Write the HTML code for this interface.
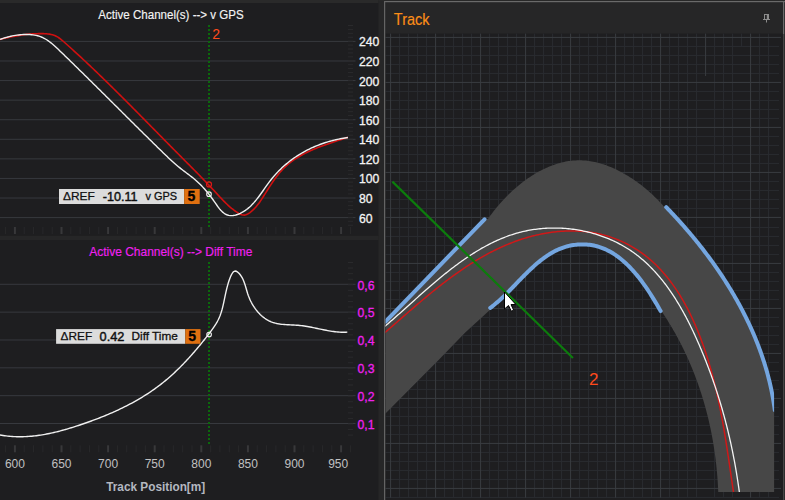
<!DOCTYPE html>
<html><head><meta charset="utf-8">
<style>
html,body{margin:0;padding:0;background:#1e1e20;width:785px;height:500px;overflow:hidden}
svg{position:absolute;left:0;top:0;font-family:"Liberation Sans", sans-serif}
</style></head><body>
<svg width="785" height="500" viewBox="0 0 785 500">
<rect x="0" y="0" width="378.5" height="500" fill="#1e1e20"/>
<rect x="0" y="0" width="378.5" height="3" fill="#2a2a2a"/>
<rect x="378.5" y="0" width="5.5" height="500" fill="#262627"/>
<rect x="0" y="235.8" width="378.5" height="4.2" fill="#262627"/>
<rect x="0" y="217.10" width="355.5" height="1" fill="#37393e"/>
<text x="359" y="222.60" fill="#f4f4f4" stroke="#f4f4f4" stroke-width="0.3" font-size="12.2">60</text>
<rect x="0" y="197.52" width="355.5" height="1" fill="#37393e"/>
<text x="359" y="203.02" fill="#f4f4f4" stroke="#f4f4f4" stroke-width="0.3" font-size="12.2">80</text>
<rect x="0" y="177.94" width="355.5" height="1" fill="#37393e"/>
<text x="359" y="183.44" fill="#f4f4f4" stroke="#f4f4f4" stroke-width="0.3" font-size="12.2">100</text>
<rect x="0" y="158.37" width="355.5" height="1" fill="#37393e"/>
<text x="359" y="163.87" fill="#f4f4f4" stroke="#f4f4f4" stroke-width="0.3" font-size="12.2">120</text>
<rect x="0" y="138.79" width="355.5" height="1" fill="#37393e"/>
<text x="359" y="144.29" fill="#f4f4f4" stroke="#f4f4f4" stroke-width="0.3" font-size="12.2">140</text>
<rect x="0" y="119.21" width="355.5" height="1" fill="#37393e"/>
<text x="359" y="124.71" fill="#f4f4f4" stroke="#f4f4f4" stroke-width="0.3" font-size="12.2">160</text>
<rect x="0" y="99.63" width="355.5" height="1" fill="#37393e"/>
<text x="359" y="105.13" fill="#f4f4f4" stroke="#f4f4f4" stroke-width="0.3" font-size="12.2">180</text>
<rect x="0" y="80.05" width="355.5" height="1" fill="#37393e"/>
<text x="359" y="85.55" fill="#f4f4f4" stroke="#f4f4f4" stroke-width="0.3" font-size="12.2">200</text>
<rect x="0" y="60.48" width="355.5" height="1" fill="#37393e"/>
<text x="359" y="65.98" fill="#f4f4f4" stroke="#f4f4f4" stroke-width="0.3" font-size="12.2">220</text>
<rect x="0" y="40.90" width="355.5" height="1" fill="#37393e"/>
<text x="359" y="46.40" fill="#f4f4f4" stroke="#f4f4f4" stroke-width="0.3" font-size="12.2">240</text>
<rect x="348" y="25.00" width="5" height="1" fill="#2a2a2c"/>
<rect x="348" y="28.92" width="5" height="1" fill="#2a2a2c"/>
<rect x="348" y="32.83" width="5" height="1" fill="#2a2a2c"/>
<rect x="348" y="36.75" width="5" height="1" fill="#2a2a2c"/>
<rect x="348" y="40.66" width="5" height="1" fill="#2a2a2c"/>
<rect x="348" y="44.58" width="5" height="1" fill="#2a2a2c"/>
<rect x="348" y="48.50" width="5" height="1" fill="#2a2a2c"/>
<rect x="348" y="52.41" width="5" height="1" fill="#2a2a2c"/>
<rect x="348" y="56.33" width="5" height="1" fill="#2a2a2c"/>
<rect x="348" y="60.24" width="5" height="1" fill="#2a2a2c"/>
<rect x="348" y="64.16" width="5" height="1" fill="#2a2a2c"/>
<rect x="348" y="68.08" width="5" height="1" fill="#2a2a2c"/>
<rect x="348" y="71.99" width="5" height="1" fill="#2a2a2c"/>
<rect x="348" y="75.91" width="5" height="1" fill="#2a2a2c"/>
<rect x="348" y="79.82" width="5" height="1" fill="#2a2a2c"/>
<rect x="348" y="83.74" width="5" height="1" fill="#2a2a2c"/>
<rect x="348" y="87.66" width="5" height="1" fill="#2a2a2c"/>
<rect x="348" y="91.57" width="5" height="1" fill="#2a2a2c"/>
<rect x="348" y="95.49" width="5" height="1" fill="#2a2a2c"/>
<rect x="348" y="99.40" width="5" height="1" fill="#2a2a2c"/>
<rect x="348" y="103.32" width="5" height="1" fill="#2a2a2c"/>
<rect x="348" y="107.24" width="5" height="1" fill="#2a2a2c"/>
<rect x="348" y="111.15" width="5" height="1" fill="#2a2a2c"/>
<rect x="348" y="115.07" width="5" height="1" fill="#2a2a2c"/>
<rect x="348" y="118.98" width="5" height="1" fill="#2a2a2c"/>
<rect x="348" y="122.90" width="5" height="1" fill="#2a2a2c"/>
<rect x="348" y="126.82" width="5" height="1" fill="#2a2a2c"/>
<rect x="348" y="130.73" width="5" height="1" fill="#2a2a2c"/>
<rect x="348" y="134.65" width="5" height="1" fill="#2a2a2c"/>
<rect x="348" y="138.56" width="5" height="1" fill="#2a2a2c"/>
<rect x="348" y="142.48" width="5" height="1" fill="#2a2a2c"/>
<rect x="348" y="146.40" width="5" height="1" fill="#2a2a2c"/>
<rect x="348" y="150.31" width="5" height="1" fill="#2a2a2c"/>
<rect x="348" y="154.23" width="5" height="1" fill="#2a2a2c"/>
<rect x="348" y="158.14" width="5" height="1" fill="#2a2a2c"/>
<rect x="348" y="162.06" width="5" height="1" fill="#2a2a2c"/>
<rect x="348" y="165.98" width="5" height="1" fill="#2a2a2c"/>
<rect x="348" y="169.89" width="5" height="1" fill="#2a2a2c"/>
<rect x="348" y="173.81" width="5" height="1" fill="#2a2a2c"/>
<rect x="348" y="177.72" width="5" height="1" fill="#2a2a2c"/>
<rect x="348" y="181.64" width="5" height="1" fill="#2a2a2c"/>
<rect x="348" y="185.56" width="5" height="1" fill="#2a2a2c"/>
<rect x="348" y="189.47" width="5" height="1" fill="#2a2a2c"/>
<rect x="348" y="193.39" width="5" height="1" fill="#2a2a2c"/>
<rect x="348" y="197.30" width="5" height="1" fill="#2a2a2c"/>
<rect x="348" y="201.22" width="5" height="1" fill="#2a2a2c"/>
<rect x="348" y="205.14" width="5" height="1" fill="#2a2a2c"/>
<rect x="348" y="209.05" width="5" height="1" fill="#2a2a2c"/>
<rect x="348" y="212.97" width="5" height="1" fill="#2a2a2c"/>
<rect x="348" y="216.88" width="5" height="1" fill="#2a2a2c"/>
<rect x="348" y="220.80" width="5" height="1" fill="#2a2a2c"/>
<rect x="348" y="224.72" width="5" height="1" fill="#2a2a2c"/>
<rect x="5.08" y="227.00" width="1" height="7" fill="#28282a"/>
<rect x="13.90" y="227.00" width="2" height="7" fill="#38383a"/>
<rect x="23.72" y="227.00" width="1" height="7" fill="#28282a"/>
<rect x="33.04" y="227.00" width="1" height="7" fill="#28282a"/>
<rect x="42.36" y="227.00" width="1" height="7" fill="#28282a"/>
<rect x="51.68" y="227.00" width="1" height="7" fill="#28282a"/>
<rect x="60.50" y="227.00" width="2" height="7" fill="#38383a"/>
<rect x="70.32" y="227.00" width="1" height="7" fill="#28282a"/>
<rect x="79.64" y="227.00" width="1" height="7" fill="#28282a"/>
<rect x="88.96" y="227.00" width="1" height="7" fill="#28282a"/>
<rect x="98.28" y="227.00" width="1" height="7" fill="#28282a"/>
<rect x="107.10" y="227.00" width="2" height="7" fill="#38383a"/>
<rect x="116.92" y="227.00" width="1" height="7" fill="#28282a"/>
<rect x="126.24" y="227.00" width="1" height="7" fill="#28282a"/>
<rect x="135.56" y="227.00" width="1" height="7" fill="#28282a"/>
<rect x="144.88" y="227.00" width="1" height="7" fill="#28282a"/>
<rect x="153.70" y="227.00" width="2" height="7" fill="#38383a"/>
<rect x="163.52" y="227.00" width="1" height="7" fill="#28282a"/>
<rect x="172.84" y="227.00" width="1" height="7" fill="#28282a"/>
<rect x="182.16" y="227.00" width="1" height="7" fill="#28282a"/>
<rect x="191.48" y="227.00" width="1" height="7" fill="#28282a"/>
<rect x="200.30" y="227.00" width="2" height="7" fill="#38383a"/>
<rect x="210.12" y="227.00" width="1" height="7" fill="#28282a"/>
<rect x="219.44" y="227.00" width="1" height="7" fill="#28282a"/>
<rect x="228.76" y="227.00" width="1" height="7" fill="#28282a"/>
<rect x="238.08" y="227.00" width="1" height="7" fill="#28282a"/>
<rect x="246.90" y="227.00" width="2" height="7" fill="#38383a"/>
<rect x="256.72" y="227.00" width="1" height="7" fill="#28282a"/>
<rect x="266.04" y="227.00" width="1" height="7" fill="#28282a"/>
<rect x="275.36" y="227.00" width="1" height="7" fill="#28282a"/>
<rect x="284.68" y="227.00" width="1" height="7" fill="#28282a"/>
<rect x="293.50" y="227.00" width="2" height="7" fill="#38383a"/>
<rect x="303.32" y="227.00" width="1" height="7" fill="#28282a"/>
<rect x="312.64" y="227.00" width="1" height="7" fill="#28282a"/>
<rect x="321.96" y="227.00" width="1" height="7" fill="#28282a"/>
<rect x="331.28" y="227.00" width="1" height="7" fill="#28282a"/>
<rect x="340.10" y="227.00" width="2" height="7" fill="#38383a"/>
<rect x="349.92" y="227.00" width="1" height="7" fill="#28282a"/>
<rect x="5.08" y="445.30" width="1" height="7" fill="#28282a"/>
<rect x="13.90" y="445.30" width="2" height="7" fill="#38383a"/>
<rect x="23.72" y="445.30" width="1" height="7" fill="#28282a"/>
<rect x="33.04" y="445.30" width="1" height="7" fill="#28282a"/>
<rect x="42.36" y="445.30" width="1" height="7" fill="#28282a"/>
<rect x="51.68" y="445.30" width="1" height="7" fill="#28282a"/>
<rect x="60.50" y="445.30" width="2" height="7" fill="#38383a"/>
<rect x="70.32" y="445.30" width="1" height="7" fill="#28282a"/>
<rect x="79.64" y="445.30" width="1" height="7" fill="#28282a"/>
<rect x="88.96" y="445.30" width="1" height="7" fill="#28282a"/>
<rect x="98.28" y="445.30" width="1" height="7" fill="#28282a"/>
<rect x="107.10" y="445.30" width="2" height="7" fill="#38383a"/>
<rect x="116.92" y="445.30" width="1" height="7" fill="#28282a"/>
<rect x="126.24" y="445.30" width="1" height="7" fill="#28282a"/>
<rect x="135.56" y="445.30" width="1" height="7" fill="#28282a"/>
<rect x="144.88" y="445.30" width="1" height="7" fill="#28282a"/>
<rect x="153.70" y="445.30" width="2" height="7" fill="#38383a"/>
<rect x="163.52" y="445.30" width="1" height="7" fill="#28282a"/>
<rect x="172.84" y="445.30" width="1" height="7" fill="#28282a"/>
<rect x="182.16" y="445.30" width="1" height="7" fill="#28282a"/>
<rect x="191.48" y="445.30" width="1" height="7" fill="#28282a"/>
<rect x="200.30" y="445.30" width="2" height="7" fill="#38383a"/>
<rect x="210.12" y="445.30" width="1" height="7" fill="#28282a"/>
<rect x="219.44" y="445.30" width="1" height="7" fill="#28282a"/>
<rect x="228.76" y="445.30" width="1" height="7" fill="#28282a"/>
<rect x="238.08" y="445.30" width="1" height="7" fill="#28282a"/>
<rect x="246.90" y="445.30" width="2" height="7" fill="#38383a"/>
<rect x="256.72" y="445.30" width="1" height="7" fill="#28282a"/>
<rect x="266.04" y="445.30" width="1" height="7" fill="#28282a"/>
<rect x="275.36" y="445.30" width="1" height="7" fill="#28282a"/>
<rect x="284.68" y="445.30" width="1" height="7" fill="#28282a"/>
<rect x="293.50" y="445.30" width="2" height="7" fill="#38383a"/>
<rect x="303.32" y="445.30" width="1" height="7" fill="#28282a"/>
<rect x="312.64" y="445.30" width="1" height="7" fill="#28282a"/>
<rect x="321.96" y="445.30" width="1" height="7" fill="#28282a"/>
<rect x="331.28" y="445.30" width="1" height="7" fill="#28282a"/>
<rect x="340.10" y="445.30" width="2" height="7" fill="#38383a"/>
<rect x="349.92" y="445.30" width="1" height="7" fill="#28282a"/>
<rect x="0" y="283.80" width="355.5" height="1" fill="#37393e"/>
<text x="357.6" y="289.60" fill="#f020f0" stroke="#f020f0" stroke-width="0.3" font-size="12.2">0,6</text>
<rect x="0" y="311.64" width="355.5" height="1" fill="#37393e"/>
<text x="357.6" y="317.44" fill="#f020f0" stroke="#f020f0" stroke-width="0.3" font-size="12.2">0,5</text>
<rect x="0" y="339.48" width="355.5" height="1" fill="#37393e"/>
<text x="357.6" y="345.28" fill="#f020f0" stroke="#f020f0" stroke-width="0.3" font-size="12.2">0,4</text>
<rect x="0" y="367.32" width="355.5" height="1" fill="#37393e"/>
<text x="357.6" y="373.12" fill="#f020f0" stroke="#f020f0" stroke-width="0.3" font-size="12.2">0,3</text>
<rect x="0" y="395.16" width="355.5" height="1" fill="#37393e"/>
<text x="357.6" y="400.96" fill="#f020f0" stroke="#f020f0" stroke-width="0.3" font-size="12.2">0,2</text>
<rect x="0" y="423.00" width="355.5" height="1" fill="#37393e"/>
<text x="357.6" y="428.80" fill="#f020f0" stroke="#f020f0" stroke-width="0.3" font-size="12.2">0,1</text>
<rect x="348" y="262.00" width="5" height="1" fill="#2a2a2c"/>
<rect x="348" y="267.57" width="5" height="1" fill="#2a2a2c"/>
<rect x="348" y="273.14" width="5" height="1" fill="#2a2a2c"/>
<rect x="348" y="278.70" width="5" height="1" fill="#2a2a2c"/>
<rect x="348" y="284.27" width="5" height="1" fill="#2a2a2c"/>
<rect x="348" y="289.84" width="5" height="1" fill="#2a2a2c"/>
<rect x="348" y="295.41" width="5" height="1" fill="#2a2a2c"/>
<rect x="348" y="300.98" width="5" height="1" fill="#2a2a2c"/>
<rect x="348" y="306.54" width="5" height="1" fill="#2a2a2c"/>
<rect x="348" y="312.11" width="5" height="1" fill="#2a2a2c"/>
<rect x="348" y="317.68" width="5" height="1" fill="#2a2a2c"/>
<rect x="348" y="323.25" width="5" height="1" fill="#2a2a2c"/>
<rect x="348" y="328.82" width="5" height="1" fill="#2a2a2c"/>
<rect x="348" y="334.38" width="5" height="1" fill="#2a2a2c"/>
<rect x="348" y="339.95" width="5" height="1" fill="#2a2a2c"/>
<rect x="348" y="345.52" width="5" height="1" fill="#2a2a2c"/>
<rect x="348" y="351.09" width="5" height="1" fill="#2a2a2c"/>
<rect x="348" y="356.66" width="5" height="1" fill="#2a2a2c"/>
<rect x="348" y="362.22" width="5" height="1" fill="#2a2a2c"/>
<rect x="348" y="367.79" width="5" height="1" fill="#2a2a2c"/>
<rect x="348" y="373.36" width="5" height="1" fill="#2a2a2c"/>
<rect x="348" y="378.93" width="5" height="1" fill="#2a2a2c"/>
<rect x="348" y="384.50" width="5" height="1" fill="#2a2a2c"/>
<rect x="348" y="390.06" width="5" height="1" fill="#2a2a2c"/>
<rect x="348" y="395.63" width="5" height="1" fill="#2a2a2c"/>
<rect x="348" y="401.20" width="5" height="1" fill="#2a2a2c"/>
<rect x="348" y="406.77" width="5" height="1" fill="#2a2a2c"/>
<rect x="348" y="412.34" width="5" height="1" fill="#2a2a2c"/>
<rect x="348" y="417.90" width="5" height="1" fill="#2a2a2c"/>
<rect x="348" y="423.47" width="5" height="1" fill="#2a2a2c"/>
<rect x="348" y="429.04" width="5" height="1" fill="#2a2a2c"/>
<rect x="348" y="434.61" width="5" height="1" fill="#2a2a2c"/>
<text x="98.3" y="18.8" fill="#f4f4f4" stroke="#f4f4f4" stroke-width="0.15" font-size="12.3" textLength="145.4" lengthAdjust="spacingAndGlyphs">Active Channel(s) --&gt; v GPS</text>
<text x="89.3" y="255.5" fill="#f020f0" stroke="#f020f0" stroke-width="0.15" font-size="12.3" textLength="163" lengthAdjust="spacingAndGlyphs">Active Channel(s) --&gt; Diff Time</text>
<line x1="209" y1="25" x2="209" y2="227" stroke="#0c680c" stroke-width="2" stroke-dasharray="2,2"/>
<line x1="209" y1="262" x2="209" y2="445" stroke="#0c680c" stroke-width="2" stroke-dasharray="2,2"/>
<text x="212.2" y="39" fill="#ff4a1c" font-size="14">2</text>
<path d="M-0.00,39.40 L1.55,39.02 L3.08,38.65 L4.60,38.30 L6.11,37.95 L7.61,37.62 L9.10,37.29 L10.58,36.98 L12.05,36.68 L13.51,36.40 L14.97,36.12 L16.43,35.86 L17.88,35.62 L19.33,35.38 L20.79,35.16 L22.24,34.95 L23.69,34.76 L25.15,34.58 L26.61,34.42 L28.08,34.27 L29.55,34.13 L31.03,34.01 L32.52,33.91 L34.02,33.82 L35.53,33.75 L37.06,33.69 L38.60,33.65 L40.15,33.62 L41.72,33.62 L43.29,33.64 L44.87,33.69 L46.43,33.79 L47.99,33.95 L49.52,34.16 L51.03,34.44 L52.50,34.80 L53.93,35.25 L55.30,35.79 L56.62,36.43 L57.90,37.17 L59.13,37.98 L60.32,38.85 L61.49,39.78 L62.64,40.74 L63.77,41.73 L64.89,42.73 L66.02,43.73 L67.14,44.73 L68.26,45.74 L69.38,46.74 L70.50,47.75 L71.61,48.76 L72.73,49.77 L73.84,50.79 L74.95,51.80 L76.06,52.82 L77.17,53.84 L78.28,54.86 L79.39,55.88 L80.49,56.90 L81.60,57.93 L82.70,58.96 L83.80,59.98 L84.90,61.01 L86.00,62.04 L87.10,63.07 L88.19,64.11 L89.29,65.14 L90.38,66.18 L91.47,67.22 L92.57,68.25 L93.66,69.29 L94.75,70.34 L95.83,71.38 L96.92,72.42 L98.01,73.47 L99.09,74.51 L100.18,75.56 L101.26,76.61 L102.34,77.66 L103.42,78.71 L104.50,79.76 L105.58,80.81 L106.66,81.86 L107.74,82.92 L108.82,83.97 L109.89,85.03 L110.97,86.09 L112.04,87.14 L113.12,88.20 L114.19,89.26 L115.26,90.32 L116.33,91.38 L117.40,92.45 L118.47,93.51 L119.54,94.57 L120.61,95.64 L121.68,96.70 L122.74,97.77 L123.81,98.83 L124.88,99.90 L125.94,100.97 L127.01,102.03 L128.07,103.10 L129.13,104.17 L130.20,105.24 L131.26,106.31 L132.32,107.38 L133.38,108.45 L134.44,109.52 L135.50,110.59 L136.56,111.66 L137.62,112.74 L138.68,113.81 L139.74,114.88 L140.80,115.95 L141.86,117.03 L142.92,118.10 L143.98,119.17 L145.03,120.25 L146.09,121.32 L147.15,122.40 L148.21,123.47 L149.26,124.54 L150.32,125.62 L151.37,126.69 L152.43,127.77 L153.49,128.84 L154.54,129.91 L155.60,130.99 L156.65,132.06 L157.71,133.13 L158.77,134.21 L159.82,135.28 L160.88,136.35 L161.93,137.43 L162.99,138.50 L164.04,139.57 L165.10,140.65 L166.16,141.72 L167.21,142.79 L168.27,143.86 L169.32,144.93 L170.38,146.00 L171.44,147.07 L172.49,148.14 L173.55,149.21 L174.61,150.28 L175.66,151.35 L176.72,152.41 L177.78,153.48 L178.84,154.55 L179.90,155.61 L180.95,156.68 L182.01,157.74 L183.07,158.81 L184.13,159.87 L185.19,160.94 L186.25,162.00 L187.31,163.07 L188.37,164.13 L189.43,165.19 L190.48,166.26 L191.54,167.33 L192.60,168.39 L193.65,169.46 L194.71,170.53 L195.76,171.60 L196.82,172.67 L197.87,173.74 L198.92,174.81 L199.97,175.88 L201.02,176.96 L202.07,178.04 L203.12,179.12 L204.16,180.20 L205.21,181.28 L206.25,182.37 L207.29,183.46 L208.33,184.55 L209.37,185.64 L210.40,186.73 L211.44,187.83 L212.47,188.93 L213.50,190.04 L214.52,191.15 L215.55,192.26 L216.57,193.37 L217.59,194.48 L218.62,195.60 L219.64,196.71 L220.67,197.82 L221.71,198.92 L222.75,200.02 L223.80,201.10 L224.86,202.17 L225.94,203.23 L227.03,204.28 L228.13,205.30 L229.25,206.31 L230.39,207.30 L231.55,208.26 L232.74,209.20 L233.94,210.11 L235.17,211.00 L236.43,211.85 L237.72,212.68 L239.03,213.46 L240.38,214.17 L241.73,214.72 L243.09,215.06 L244.44,215.11 L245.78,214.84 L247.10,214.32 L248.38,213.62 L249.62,212.79 L250.81,211.89 L251.96,210.94 L253.06,209.95 L254.12,208.91 L255.15,207.82 L256.14,206.70 L257.09,205.55 L258.03,204.36 L258.93,203.15 L259.82,201.91 L260.68,200.66 L261.53,199.38 L262.37,198.10 L263.20,196.80 L264.02,195.49 L264.85,194.19 L265.67,192.88 L266.49,191.58 L267.31,190.27 L268.13,188.97 L268.96,187.67 L269.80,186.38 L270.63,185.09 L271.48,183.82 L272.33,182.55 L273.19,181.29 L274.07,180.04 L274.95,178.80 L275.84,177.58 L276.75,176.38 L277.67,175.19 L278.61,174.02 L279.57,172.86 L280.54,171.73 L281.53,170.62 L282.54,169.53 L283.57,168.46 L284.62,167.42 L285.70,166.41 L286.79,165.41 L287.91,164.45 L289.05,163.50 L290.20,162.58 L291.38,161.68 L292.57,160.81 L293.78,159.95 L295.01,159.12 L296.25,158.30 L297.51,157.51 L298.79,156.73 L300.08,155.98 L301.38,155.24 L302.69,154.52 L304.02,153.81 L305.36,153.13 L306.71,152.45 L308.07,151.80 L309.44,151.16 L310.82,150.53 L312.21,149.91 L313.60,149.31 L315.01,148.72 L316.42,148.15 L317.83,147.58 L319.25,147.03 L320.68,146.48 L322.11,145.95 L323.54,145.43 L324.97,144.91 L326.41,144.40 L327.85,143.90 L329.29,143.41 L330.72,142.92 L332.16,142.44 L333.60,141.96 L335.03,141.49 L336.47,141.03 L337.89,140.56 L339.32,140.10 L340.74,139.65 L342.16,139.19 L343.57,138.74 L344.97,138.29 L346.37,137.84 L347.75,137.38" fill="none" stroke="#d01010" stroke-width="1.6"/>
<path d="M0.00,39.40 L1.19,38.97 L2.43,38.55 L3.73,38.13 L5.06,37.73 L6.45,37.34 L7.87,36.96 L9.32,36.60 L10.81,36.26 L12.33,35.94 L13.87,35.65 L15.44,35.38 L17.02,35.14 L18.62,34.93 L20.23,34.76 L21.84,34.63 L23.46,34.53 L25.08,34.47 L26.69,34.46 L28.30,34.49 L29.90,34.57 L31.48,34.70 L33.05,34.89 L34.59,35.12 L36.11,35.42 L37.60,35.78 L39.06,36.20 L40.48,36.68 L41.87,37.23 L43.22,37.84 L44.53,38.51 L45.81,39.24 L47.07,40.01 L48.29,40.83 L49.49,41.69 L50.67,42.59 L51.83,43.53 L52.98,44.49 L54.10,45.48 L55.22,46.48 L56.32,47.51 L57.42,48.55 L58.52,49.59 L59.60,50.64 L60.69,51.69 L61.78,52.74 L62.87,53.80 L63.96,54.85 L65.04,55.90 L66.13,56.95 L67.21,58.01 L68.30,59.06 L69.38,60.12 L70.47,61.17 L71.55,62.23 L72.63,63.28 L73.71,64.34 L74.79,65.40 L75.87,66.45 L76.95,67.51 L78.03,68.57 L79.11,69.63 L80.19,70.69 L81.27,71.74 L82.35,72.80 L83.43,73.86 L84.50,74.92 L85.58,75.98 L86.66,77.04 L87.73,78.10 L88.81,79.17 L89.88,80.23 L90.96,81.29 L92.03,82.35 L93.11,83.41 L94.18,84.47 L95.25,85.54 L96.33,86.60 L97.40,87.66 L98.47,88.72 L99.55,89.79 L100.62,90.85 L101.69,91.91 L102.76,92.98 L103.83,94.04 L104.91,95.10 L105.98,96.17 L107.05,97.23 L108.12,98.30 L109.19,99.36 L110.26,100.42 L111.33,101.49 L112.40,102.55 L113.47,103.62 L114.54,104.68 L115.61,105.74 L116.68,106.81 L117.75,107.87 L118.82,108.94 L119.89,110.00 L120.96,111.06 L122.03,112.13 L123.10,113.19 L124.17,114.26 L125.25,115.32 L126.32,116.38 L127.39,117.45 L128.46,118.51 L129.53,119.57 L130.60,120.64 L131.67,121.70 L132.74,122.76 L133.81,123.83 L134.88,124.89 L135.95,125.95 L137.02,127.01 L138.10,128.07 L139.17,129.14 L140.24,130.20 L141.31,131.26 L142.39,132.32 L143.46,133.38 L144.53,134.44 L145.60,135.50 L146.68,136.56 L147.75,137.62 L148.83,138.68 L149.90,139.74 L150.98,140.80 L152.05,141.86 L153.13,142.91 L154.20,143.97 L155.28,145.03 L156.36,146.09 L157.43,147.14 L158.51,148.20 L159.59,149.25 L160.67,150.31 L161.75,151.36 L162.83,152.42 L163.91,153.47 L164.99,154.52 L166.08,155.56 L167.18,156.60 L168.27,157.64 L169.37,158.67 L170.48,159.70 L171.59,160.72 L172.71,161.73 L173.84,162.74 L174.97,163.74 L176.12,164.73 L177.27,165.71 L178.43,166.68 L179.60,167.64 L180.79,168.59 L181.98,169.53 L183.18,170.46 L184.39,171.38 L185.61,172.30 L186.82,173.21 L188.04,174.13 L189.25,175.04 L190.45,175.96 L191.64,176.88 L192.82,177.81 L193.98,178.76 L195.13,179.71 L196.25,180.69 L197.35,181.67 L198.43,182.68 L199.50,183.70 L200.55,184.73 L201.58,185.79 L202.60,186.86 L203.60,187.94 L204.59,189.04 L205.56,190.17 L206.53,191.30 L207.49,192.46 L208.43,193.63 L209.37,194.82 L210.30,196.03 L211.23,197.26 L212.15,198.51 L213.06,199.78 L213.98,201.06 L214.89,202.37 L215.80,203.69 L216.71,205.01 L217.64,206.32 L218.59,207.60 L219.55,208.84 L220.55,210.02 L221.59,211.13 L222.66,212.14 L223.79,213.05 L224.96,213.84 L226.20,214.49 L227.49,215.00 L228.83,215.36 L230.21,215.58 L231.62,215.64 L233.06,215.56 L234.51,215.33 L235.96,214.98 L237.40,214.52 L238.83,213.98 L240.22,213.36 L241.56,212.69 L242.87,211.97 L244.14,211.20 L245.37,210.38 L246.56,209.52 L247.73,208.61 L248.86,207.66 L249.96,206.68 L251.04,205.66 L252.09,204.60 L253.11,203.52 L254.12,202.41 L255.10,201.27 L256.07,200.10 L257.02,198.92 L257.95,197.72 L258.88,196.50 L259.79,195.26 L260.70,194.02 L261.59,192.76 L262.49,191.50 L263.38,190.23 L264.27,188.96 L265.16,187.69 L266.06,186.42 L266.96,185.16 L267.87,183.90 L268.78,182.65 L269.71,181.42 L270.65,180.20 L271.60,178.99 L272.57,177.80 L273.55,176.63 L274.54,175.48 L275.55,174.34 L276.58,173.22 L277.61,172.11 L278.66,171.02 L279.73,169.95 L280.81,168.90 L281.90,167.86 L283.00,166.84 L284.12,165.83 L285.24,164.84 L286.39,163.87 L287.54,162.92 L288.70,161.98 L289.88,161.06 L291.07,160.16 L292.27,159.27 L293.48,158.40 L294.71,157.54 L295.94,156.71 L297.19,155.89 L298.44,155.08 L299.71,154.30 L300.99,153.53 L302.27,152.77 L303.57,152.04 L304.88,151.32 L306.20,150.61 L307.52,149.93 L308.86,149.26 L310.21,148.61 L311.56,147.97 L312.93,147.35 L314.30,146.75 L315.68,146.16 L317.07,145.60 L318.47,145.04 L319.88,144.51 L321.29,143.99 L322.71,143.49 L324.15,143.01 L325.58,142.54 L327.03,142.09 L328.48,141.65 L329.94,141.24 L331.41,140.84 L332.88,140.45 L334.36,140.09 L335.85,139.74 L337.34,139.41 L338.84,139.09 L340.35,138.79 L341.86,138.51 L343.38,138.24 L344.90,138.00 L346.43,137.77 L347.96,137.55" fill="none" stroke="#f0f0f0" stroke-width="1.4"/>
<circle cx="209" cy="184.4" r="2.5" fill="none" stroke="#e01818" stroke-width="1.2"/>
<circle cx="209" cy="194.2" r="2.3" fill="none" stroke="#f0f0f0" stroke-width="1.1"/>
<path d="M-0.05,435.01 L1.49,435.27 L3.03,435.51 L4.57,435.73 L6.11,435.92 L7.64,436.10 L9.17,436.25 L10.70,436.38 L12.22,436.49 L13.74,436.58 L15.26,436.65 L16.77,436.70 L18.29,436.73 L19.80,436.74 L21.30,436.73 L22.81,436.70 L24.31,436.66 L25.81,436.60 L27.30,436.52 L28.80,436.42 L30.29,436.31 L31.78,436.18 L33.27,436.03 L34.75,435.87 L36.23,435.70 L37.72,435.51 L39.19,435.30 L40.67,435.08 L42.14,434.85 L43.62,434.60 L45.09,434.34 L46.55,434.06 L48.02,433.78 L49.48,433.48 L50.95,433.17 L52.41,432.85 L53.87,432.51 L55.33,432.17 L56.78,431.81 L58.24,431.45 L59.69,431.07 L61.14,430.69 L62.59,430.30 L64.04,429.89 L65.48,429.48 L66.93,429.06 L68.38,428.64 L69.82,428.20 L71.26,427.76 L72.70,427.31 L74.14,426.86 L75.58,426.39 L77.02,425.93 L78.45,425.46 L79.89,424.98 L81.32,424.50 L82.76,424.01 L84.19,423.52 L85.62,423.02 L87.05,422.52 L88.48,422.01 L89.91,421.50 L91.34,420.98 L92.76,420.46 L94.18,419.93 L95.60,419.39 L97.02,418.85 L98.44,418.31 L99.85,417.76 L101.26,417.20 L102.67,416.64 L104.07,416.07 L105.48,415.49 L106.88,414.91 L108.28,414.32 L109.67,413.73 L111.06,413.12 L112.45,412.52 L113.83,411.90 L115.21,411.28 L116.59,410.65 L117.97,410.02 L119.33,409.37 L120.70,408.73 L122.06,408.07 L123.42,407.40 L124.77,406.73 L126.12,406.06 L127.47,405.37 L128.81,404.67 L130.14,403.97 L131.47,403.26 L132.80,402.55 L134.12,401.82 L135.43,401.09 L136.74,400.35 L138.04,399.60 L139.34,398.84 L140.64,398.07 L141.92,397.30 L143.20,396.51 L144.48,395.72 L145.75,394.92 L147.01,394.11 L148.27,393.29 L149.52,392.46 L150.76,391.63 L152.00,390.78 L153.23,389.92 L154.45,389.06 L155.67,388.19 L156.88,387.30 L158.08,386.41 L159.28,385.50 L160.47,384.59 L161.65,383.67 L162.82,382.74 L163.99,381.79 L165.15,380.84 L166.30,379.88 L167.44,378.91 L168.58,377.93 L169.71,376.95 L170.83,375.95 L171.95,374.95 L173.06,373.93 L174.16,372.91 L175.26,371.88 L176.35,370.85 L177.44,369.80 L178.51,368.75 L179.59,367.69 L180.65,366.62 L181.71,365.55 L182.77,364.47 L183.82,363.38 L184.86,362.29 L185.90,361.19 L186.93,360.08 L187.96,358.97 L188.98,357.85 L189.99,356.73 L191.00,355.60 L192.01,354.46 L193.01,353.32 L194.01,352.17 L195.00,351.02 L195.98,349.87 L196.97,348.71 L197.94,347.54 L198.92,346.37 L199.88,345.20 L200.85,344.02 L201.81,342.84 L202.76,341.65 L203.71,340.46 L204.66,339.27 L205.61,338.07 L206.55,336.88 L207.48,335.67 L208.42,334.47 L209.34,333.26 L210.27,332.05 L211.18,330.83 L212.08,329.61 L212.96,328.38 L213.83,327.14 L214.67,325.89 L215.48,324.63 L216.26,323.36 L217.01,322.07 L217.71,320.77 L218.38,319.45 L219.01,318.11 L219.59,316.76 L220.13,315.39 L220.64,314.00 L221.11,312.60 L221.55,311.18 L221.97,309.76 L222.36,308.32 L222.73,306.86 L223.09,305.40 L223.43,303.93 L223.76,302.45 L224.07,300.96 L224.39,299.47 L224.70,297.97 L225.01,296.46 L225.33,294.95 L225.65,293.44 L225.98,291.92 L226.33,290.40 L226.69,288.88 L227.07,287.36 L227.47,285.84 L227.89,284.33 L228.35,282.81 L228.83,281.30 L229.35,279.79 L229.91,278.29 L230.51,276.80 L231.15,275.34 L231.84,273.99 L232.59,272.82 L233.40,271.89 L234.28,271.29 L235.24,271.08 L236.26,271.28 L237.32,271.85 L238.39,272.70 L239.43,273.78 L240.41,275.00 L241.31,276.30 L242.11,277.65 L242.83,279.04 L243.48,280.47 L244.07,281.93 L244.60,283.42 L245.10,284.92 L245.56,286.43 L246.01,287.95 L246.45,289.47 L246.88,290.98 L247.33,292.47 L247.80,293.94 L248.30,295.39 L248.83,296.82 L249.40,298.22 L249.99,299.60 L250.62,300.96 L251.29,302.30 L251.99,303.62 L252.74,304.92 L253.52,306.19 L254.35,307.45 L255.22,308.69 L256.13,309.90 L257.08,311.08 L258.07,312.23 L259.09,313.35 L260.16,314.43 L261.26,315.46 L262.39,316.45 L263.56,317.39 L264.76,318.28 L265.99,319.12 L267.25,319.89 L268.54,320.61 L269.87,321.26 L271.21,321.84 L272.59,322.35 L273.99,322.79 L275.41,323.18 L276.86,323.51 L278.32,323.79 L279.80,324.03 L281.29,324.23 L282.80,324.39 L284.32,324.53 L285.85,324.64 L287.38,324.73 L288.92,324.82 L290.47,324.89 L292.01,324.96 L293.56,325.03 L295.10,325.12 L296.64,325.21 L298.17,325.32 L299.69,325.46 L301.20,325.62 L302.71,325.81 L304.21,326.01 L305.70,326.24 L307.18,326.48 L308.66,326.74 L310.13,327.02 L311.60,327.30 L313.06,327.59 L314.52,327.89 L315.98,328.20 L317.44,328.51 L318.89,328.82 L320.35,329.13 L321.81,329.43 L323.26,329.73 L324.72,330.03 L326.19,330.31 L327.65,330.59 L329.12,330.85 L330.59,331.09 L332.07,331.32 L333.56,331.52 L335.05,331.71 L336.55,331.87 L338.06,332.00 L339.58,332.11 L341.10,332.19 L342.64,332.24 L344.19,332.25 L345.75,332.22 L347.32,332.16" fill="none" stroke="#f0f0f0" stroke-width="1.4"/>
<circle cx="209.1" cy="334.6" r="2.3" fill="none" stroke="#f0f0f0" stroke-width="1.1"/>
<rect x="59" y="189" width="125.2" height="15" fill="#dcdcdc"/>
<rect x="184.2" y="189" width="15.5" height="15" fill="#e07010"/>
<text x="63" y="200" fill="#101010" stroke="#101010" stroke-width="0.25" font-size="11.2" textLength="31.8" lengthAdjust="spacingAndGlyphs">ΔREF</text>
<text x="102.7" y="200.8" fill="#101010" stroke="#101010" stroke-width="0.45" font-size="13.4" textLength="34.8" lengthAdjust="spacingAndGlyphs">-10.11</text>
<text x="145.4" y="200.4" fill="#101010" stroke="#101010" stroke-width="0.3" font-size="11.6" textLength="31.6" lengthAdjust="spacingAndGlyphs">v GPS</text>
<text x="187.6" y="200.6" fill="#000" stroke="#000" stroke-width="0.3" font-size="14" font-weight="bold">5</text>
<rect x="56.1" y="329.1" width="129.2" height="14.7" fill="#dcdcdc"/>
<rect x="185.3" y="329.1" width="15.2" height="14.7" fill="#e07010"/>
<text x="60.6" y="340" fill="#101010" stroke="#101010" stroke-width="0.25" font-size="11.2" textLength="31.6" lengthAdjust="spacingAndGlyphs">ΔREF</text>
<text x="99.6" y="340.8" fill="#101010" stroke="#101010" stroke-width="0.45" font-size="13.4" textLength="24.8" lengthAdjust="spacingAndGlyphs">0.42</text>
<text x="131.5" y="340.4" fill="#101010" stroke="#101010" stroke-width="0.3" font-size="11.6" textLength="46.3" lengthAdjust="spacingAndGlyphs">Diff Time</text>
<text x="188.2" y="340.6" fill="#000" stroke="#000" stroke-width="0.3" font-size="14" font-weight="bold">5</text>
<text x="14.90" y="468" fill="#c0c0c0" font-size="12" text-anchor="middle">600</text>
<text x="61.50" y="468" fill="#c0c0c0" font-size="12" text-anchor="middle">650</text>
<text x="108.10" y="468" fill="#c0c0c0" font-size="12" text-anchor="middle">700</text>
<text x="154.70" y="468" fill="#c0c0c0" font-size="12" text-anchor="middle">750</text>
<text x="201.30" y="468" fill="#c0c0c0" font-size="12" text-anchor="middle">800</text>
<text x="247.90" y="468" fill="#c0c0c0" font-size="12" text-anchor="middle">850</text>
<text x="294.50" y="468" fill="#c0c0c0" font-size="12" text-anchor="middle">900</text>
<text x="338.20" y="468" fill="#c0c0c0" font-size="12" text-anchor="middle">950</text>
<text x="106.2" y="491" fill="#b4b8c0" font-size="12" font-weight="bold" textLength="99" lengthAdjust="spacingAndGlyphs">Track Position[m]</text>
<rect x="378.5" y="0" width="406.5" height="1.2" fill="#282828"/>
<rect x="384" y="1" width="401" height="499" fill="#262627"/>
<rect x="385.5" y="33.6" width="397.5" height="466.4" fill="#1e1e20"/>
<rect x="399.10" y="33.6" width="1" height="464" fill="#2a2c30"/>
<rect x="408.10" y="33.6" width="1" height="464" fill="#2a2c30"/>
<rect x="417.10" y="33.6" width="1" height="464" fill="#2a2c30"/>
<rect x="426.10" y="33.6" width="1" height="464" fill="#2a2c30"/>
<rect x="444.10" y="33.6" width="1" height="464" fill="#2a2c30"/>
<rect x="453.10" y="33.6" width="1" height="464" fill="#2a2c30"/>
<rect x="462.10" y="33.6" width="1" height="464" fill="#2a2c30"/>
<rect x="471.10" y="33.6" width="1" height="464" fill="#2a2c30"/>
<rect x="489.10" y="33.6" width="1" height="464" fill="#2a2c30"/>
<rect x="498.10" y="33.6" width="1" height="464" fill="#2a2c30"/>
<rect x="507.10" y="33.6" width="1" height="464" fill="#2a2c30"/>
<rect x="516.10" y="33.6" width="1" height="464" fill="#2a2c30"/>
<rect x="534.10" y="33.6" width="1" height="464" fill="#2a2c30"/>
<rect x="543.10" y="33.6" width="1" height="464" fill="#2a2c30"/>
<rect x="552.10" y="33.6" width="1" height="464" fill="#2a2c30"/>
<rect x="561.10" y="33.6" width="1" height="464" fill="#2a2c30"/>
<rect x="579.10" y="33.6" width="1" height="464" fill="#2a2c30"/>
<rect x="588.10" y="33.6" width="1" height="464" fill="#2a2c30"/>
<rect x="597.10" y="33.6" width="1" height="464" fill="#2a2c30"/>
<rect x="606.10" y="33.6" width="1" height="464" fill="#2a2c30"/>
<rect x="624.10" y="33.6" width="1" height="464" fill="#2a2c30"/>
<rect x="633.10" y="33.6" width="1" height="464" fill="#2a2c30"/>
<rect x="642.10" y="33.6" width="1" height="464" fill="#2a2c30"/>
<rect x="651.10" y="33.6" width="1" height="464" fill="#2a2c30"/>
<rect x="669.10" y="33.6" width="1" height="464" fill="#2a2c30"/>
<rect x="678.10" y="33.6" width="1" height="464" fill="#2a2c30"/>
<rect x="687.10" y="33.6" width="1" height="464" fill="#2a2c30"/>
<rect x="696.10" y="33.6" width="1" height="464" fill="#2a2c30"/>
<rect x="714.10" y="33.6" width="1" height="464" fill="#2a2c30"/>
<rect x="723.10" y="33.6" width="1" height="464" fill="#2a2c30"/>
<rect x="732.10" y="33.6" width="1" height="464" fill="#2a2c30"/>
<rect x="741.10" y="33.6" width="1" height="12.5" fill="#2a2c30"/>
<rect x="759.10" y="33.6" width="1" height="464" fill="#2a2c30"/>
<rect x="768.10" y="33.6" width="1" height="464" fill="#2a2c30"/>
<rect x="385.5" y="45.90" width="393.5" height="1" fill="#2a2c30"/>
<rect x="385.5" y="54.90" width="393.5" height="1" fill="#2a2c30"/>
<rect x="385.5" y="63.90" width="393.5" height="1" fill="#2a2c30"/>
<rect x="385.5" y="72.90" width="393.5" height="1" fill="#2a2c30"/>
<rect x="385.5" y="90.90" width="393.5" height="1" fill="#2a2c30"/>
<rect x="385.5" y="99.90" width="393.5" height="1" fill="#2a2c30"/>
<rect x="385.5" y="108.90" width="393.5" height="1" fill="#2a2c30"/>
<rect x="385.5" y="117.90" width="393.5" height="1" fill="#2a2c30"/>
<rect x="385.5" y="135.90" width="393.5" height="1" fill="#2a2c30"/>
<rect x="385.5" y="144.90" width="393.5" height="1" fill="#2a2c30"/>
<rect x="385.5" y="153.90" width="393.5" height="1" fill="#2a2c30"/>
<rect x="385.5" y="162.90" width="393.5" height="1" fill="#2a2c30"/>
<rect x="385.5" y="180.90" width="393.5" height="1" fill="#2a2c30"/>
<rect x="385.5" y="189.90" width="393.5" height="1" fill="#2a2c30"/>
<rect x="385.5" y="198.90" width="393.5" height="1" fill="#2a2c30"/>
<rect x="385.5" y="207.90" width="393.5" height="1" fill="#2a2c30"/>
<rect x="385.5" y="226.90" width="393.5" height="1" fill="#2a2c30"/>
<rect x="385.5" y="235.90" width="393.5" height="1" fill="#2a2c30"/>
<rect x="385.5" y="244.90" width="393.5" height="1" fill="#2a2c30"/>
<rect x="385.5" y="253.90" width="393.5" height="1" fill="#2a2c30"/>
<rect x="385.5" y="271.90" width="393.5" height="1" fill="#2a2c30"/>
<rect x="385.5" y="280.90" width="393.5" height="1" fill="#2a2c30"/>
<rect x="385.5" y="289.90" width="393.5" height="1" fill="#2a2c30"/>
<rect x="385.5" y="298.90" width="393.5" height="1" fill="#2a2c30"/>
<rect x="385.5" y="316.90" width="393.5" height="1" fill="#2a2c30"/>
<rect x="385.5" y="325.90" width="393.5" height="1" fill="#2a2c30"/>
<rect x="385.5" y="334.90" width="393.5" height="1" fill="#2a2c30"/>
<rect x="385.5" y="343.90" width="393.5" height="1" fill="#2a2c30"/>
<rect x="385.5" y="361.90" width="393.5" height="1" fill="#2a2c30"/>
<rect x="385.5" y="370.90" width="393.5" height="1" fill="#2a2c30"/>
<rect x="385.5" y="379.90" width="393.5" height="1" fill="#2a2c30"/>
<rect x="385.5" y="388.90" width="393.5" height="1" fill="#2a2c30"/>
<rect x="385.5" y="406.90" width="393.5" height="1" fill="#2a2c30"/>
<rect x="385.5" y="415.90" width="393.5" height="1" fill="#2a2c30"/>
<rect x="385.5" y="424.90" width="393.5" height="1" fill="#2a2c30"/>
<rect x="385.5" y="433.90" width="393.5" height="1" fill="#2a2c30"/>
<rect x="385.5" y="451.90" width="393.5" height="1" fill="#2a2c30"/>
<rect x="385.5" y="460.90" width="393.5" height="1" fill="#2a2c30"/>
<rect x="385.5" y="469.90" width="393.5" height="1" fill="#2a2c30"/>
<rect x="385.5" y="478.90" width="393.5" height="1" fill="#2a2c30"/>
<rect x="385.5" y="496.90" width="393.5" height="1" fill="#2a2c30"/>
<rect x="390.10" y="33.6" width="1" height="464" fill="#393c41"/>
<rect x="435.10" y="33.6" width="1" height="464" fill="#393c41"/>
<rect x="480.10" y="33.6" width="1" height="464" fill="#393c41"/>
<rect x="525.10" y="33.6" width="1" height="464" fill="#393c41"/>
<rect x="570.10" y="33.6" width="1" height="464" fill="#393c41"/>
<rect x="615.10" y="33.6" width="1" height="464" fill="#393c41"/>
<rect x="660.10" y="33.6" width="1" height="464" fill="#393c41"/>
<rect x="705.10" y="33.6" width="1" height="42.4" fill="#393c41"/>
<rect x="750.10" y="33.6" width="1" height="464" fill="#393c41"/>
<rect x="385.5" y="36.90" width="395.5" height="1" fill="#393c41"/>
<rect x="385.5" y="81.90" width="395.5" height="1" fill="#393c41"/>
<rect x="385.5" y="126.90" width="395.5" height="1" fill="#393c41"/>
<rect x="385.5" y="171.90" width="395.5" height="1" fill="#393c41"/>
<rect x="385.5" y="216.90" width="395.5" height="1" fill="#393c41"/>
<rect x="385.5" y="262.90" width="395.5" height="1" fill="#393c41"/>
<rect x="385.5" y="307.90" width="395.5" height="1" fill="#393c41"/>
<rect x="385.5" y="352.90" width="395.5" height="1" fill="#393c41"/>
<rect x="385.5" y="397.90" width="395.5" height="1" fill="#393c41"/>
<rect x="385.5" y="442.90" width="395.5" height="1" fill="#393c41"/>
<rect x="385.5" y="487.90" width="395.5" height="1" fill="#393c41"/>
<rect x="384" y="1" width="401" height="1.2" fill="#6a6a6a"/>
<rect x="384" y="1" width="1.2" height="499" fill="#646464"/>
<rect x="783" y="1" width="1.2" height="33" fill="#6a6a6a"/>
<rect x="783" y="34" width="1.2" height="466" fill="#464646"/>
<text x="393.8" y="24.9" fill="#fc8e18" stroke="#fc8e18" stroke-width="0.15" font-size="16.1" textLength="35.8" lengthAdjust="spacingAndGlyphs">Track</text>
<g fill="#8c8c8c"><rect x="764" y="14" width="5" height="1"/><rect x="764" y="14" width="1" height="5"/><rect x="766.8" y="14" width="2.2" height="5"/><rect x="763" y="19" width="7" height="1"/><rect x="766" y="20" width="1" height="2.5"/></g>
<clipPath id="tc"><rect x="385.5" y="33.6" width="388.6" height="458.4"/></clipPath>
<g clip-path="url(#tc)">
<path d="M376.00,331.40 L377.05,330.31 L378.11,329.22 L379.16,328.14 L380.22,327.05 L381.27,325.96 L382.33,324.87 L383.38,323.79 L384.43,322.70 L385.49,321.61 L386.54,320.52 L387.59,319.43 L388.65,318.35 L389.70,317.26 L390.75,316.17 L391.81,315.08 L392.86,313.99 L393.91,312.90 L394.97,311.81 L396.02,310.73 L397.07,309.64 L398.13,308.55 L399.18,307.46 L400.23,306.37 L401.28,305.28 L402.34,304.19 L403.39,303.11 L404.44,302.02 L405.50,300.93 L406.55,299.84 L407.60,298.75 L408.66,297.66 L409.71,296.57 L410.76,295.49 L411.82,294.40 L412.87,293.31 L413.92,292.22 L414.98,291.13 L416.03,290.04 L417.08,288.95 L418.13,287.87 L419.19,286.78 L420.24,285.69 L421.29,284.60 L422.35,283.51 L423.40,282.42 L424.45,281.33 L425.51,280.24 L426.56,279.16 L427.61,278.07 L428.67,276.98 L429.72,275.89 L430.77,274.80 L431.83,273.71 L432.88,272.63 L433.93,271.54 L434.99,270.45 L436.04,269.36 L437.09,268.27 L438.15,267.18 L439.20,266.10 L440.25,265.01 L441.31,263.92 L442.36,262.83 L443.41,261.74 L444.47,260.65 L445.52,259.57 L446.57,258.48 L447.63,257.39 L448.68,256.30 L449.74,255.21 L450.79,254.12 L451.84,253.04 L452.90,251.95 L453.95,250.86 L455.00,249.77 L456.06,248.68 L457.11,247.60 L458.16,246.51 L459.22,245.42 L460.27,244.33 L461.32,243.24 L462.38,242.15 L463.43,241.07 L464.48,239.98 L465.54,238.89 L466.59,237.80 L467.64,236.71 L468.70,235.62 L469.75,234.54 L470.80,233.45 L471.86,232.36 L472.91,231.27 L473.97,230.18 L475.02,229.09 L476.07,228.01 L477.13,226.92 L478.18,225.83 L479.23,224.74 L480.29,223.65 L481.34,222.56 L482.39,221.48 L483.45,220.39 L484.50,219.30 L487.93,218.96 L488.77,217.76 L489.63,216.55 L490.50,215.36 L491.38,214.16 L492.28,212.97 L493.20,211.77 L494.12,210.59 L495.06,209.40 L496.02,208.22 L496.99,207.05 L497.97,205.88 L498.96,204.72 L499.97,203.56 L500.99,202.41 L502.02,201.27 L503.07,200.13 L504.12,199.00 L505.19,197.88 L506.27,196.76 L507.36,195.66 L508.47,194.57 L509.58,193.48 L510.71,192.40 L511.84,191.34 L512.99,190.28 L514.15,189.24 L515.31,188.21 L516.49,187.19 L517.68,186.18 L518.88,185.19 L520.09,184.21 L521.30,183.24 L522.53,182.29 L523.76,181.35 L525.01,180.43 L526.26,179.52 L527.52,178.62 L528.79,177.75 L530.07,176.89 L531.36,176.04 L532.65,175.22 L533.95,174.41 L535.26,173.62 L536.58,172.85 L537.90,172.09 L539.23,171.36 L540.57,170.65 L541.92,169.95 L543.27,169.28 L544.62,168.63 L545.99,167.99 L547.36,167.39 L548.73,166.80 L550.11,166.23 L551.50,165.69 L552.89,165.17 L554.28,164.68 L555.68,164.21 L557.09,163.76 L558.50,163.34 L559.91,162.94 L561.33,162.57 L562.75,162.23 L564.18,161.91 L565.61,161.62 L567.04,161.36 L568.48,161.12 L569.92,160.92 L571.36,160.74 L572.81,160.59 L574.25,160.47 L575.70,160.38 L577.16,160.32 L578.61,160.29 L580.07,160.29 L581.53,160.33 L582.98,160.39 L584.45,160.49 L585.91,160.61 L587.37,160.77 L588.83,160.96 L590.29,161.18 L591.75,161.42 L593.22,161.70 L594.68,162.00 L596.13,162.33 L597.59,162.68 L599.05,163.07 L600.50,163.47 L601.95,163.91 L603.40,164.37 L604.84,164.85 L606.28,165.36 L607.72,165.89 L609.15,166.44 L610.58,167.02 L612.00,167.61 L613.42,168.23 L614.84,168.87 L616.24,169.53 L617.64,170.22 L619.04,170.92 L620.43,171.63 L621.81,172.37 L623.18,173.13 L624.55,173.90 L625.91,174.69 L627.26,175.50 L628.60,176.32 L629.94,177.16 L631.26,178.01 L632.58,178.87 L633.88,179.76 L635.18,180.65 L636.46,181.56 L637.74,182.48 L639.00,183.41 L640.25,184.35 L641.49,185.31 L642.72,186.27 L643.94,187.25 L645.14,188.23 L646.33,189.22 L647.51,190.22 L648.67,191.23 L649.82,192.25 L650.96,193.27 L652.08,194.31 L653.18,195.34 L654.28,196.38 L655.35,197.43 L656.41,198.48 L657.46,199.54 L658.49,200.60 L659.50,201.66 L660.49,202.72 L661.47,203.79 L662.43,204.86 L663.37,205.93 L664.30,207.00 L666.21,207.16 L667.24,208.23 L668.27,209.30 L669.30,210.37 L670.33,211.45 L671.35,212.53 L672.37,213.62 L673.39,214.71 L674.41,215.80 L675.42,216.89 L676.43,217.99 L677.44,219.10 L678.45,220.21 L679.45,221.32 L680.45,222.43 L681.45,223.55 L682.45,224.67 L683.44,225.80 L684.43,226.93 L685.42,228.06 L686.41,229.20 L687.39,230.34 L688.37,231.48 L689.34,232.63 L690.32,233.78 L691.29,234.93 L692.25,236.09 L693.22,237.25 L694.18,238.42 L695.14,239.59 L696.09,240.76 L697.04,241.93 L697.99,243.11 L698.93,244.29 L699.87,245.48 L700.81,246.67 L701.75,247.86 L702.68,249.06 L703.60,250.26 L704.52,251.46 L705.44,252.67 L706.36,253.87 L707.27,255.09 L708.18,256.30 L709.08,257.52 L709.98,258.74 L710.88,259.97 L711.77,261.20 L712.66,262.43 L713.54,263.67 L714.42,264.90 L715.29,266.15 L716.16,267.39 L717.03,268.64 L717.89,269.89 L718.75,271.14 L719.60,272.40 L720.45,273.66 L721.30,274.93 L722.14,276.19 L722.97,277.46 L723.80,278.74 L724.63,280.01 L725.45,281.29 L726.27,282.57 L727.08,283.86 L727.88,285.15 L728.69,286.44 L729.48,287.73 L730.27,289.03 L731.06,290.33 L731.84,291.63 L732.62,292.94 L733.39,294.25 L734.16,295.56 L734.92,296.88 L735.67,298.19 L736.42,299.51 L737.17,300.84 L737.91,302.16 L738.64,303.49 L739.37,304.82 L740.09,306.16 L740.81,307.50 L741.52,308.84 L742.22,310.18 L742.92,311.53 L743.62,312.87 L744.31,314.23 L744.99,315.58 L745.67,316.94 L746.34,318.30 L747.00,319.66 L747.66,321.02 L748.31,322.39 L748.96,323.76 L749.60,325.13 L750.23,326.51 L750.86,327.89 L751.48,329.27 L752.09,330.65 L752.70,332.04 L753.30,333.42 L753.90,334.82 L754.49,336.21 L755.07,337.60 L755.65,339.00 L756.21,340.40 L756.78,341.81 L757.33,343.21 L757.88,344.62 L758.42,346.03 L758.96,347.45 L759.48,348.86 L760.01,350.28 L760.52,351.70 L761.03,353.12 L761.53,354.55 L762.02,355.98 L762.50,357.41 L762.98,358.84 L763.45,360.27 L763.92,361.71 L764.37,363.15 L764.82,364.59 L765.26,366.03 L765.69,367.48 L766.12,368.93 L766.54,370.38 L766.95,371.83 L767.35,373.28 L767.75,374.74 L768.14,376.20 L768.51,377.66 L768.89,379.13 L769.25,380.59 L769.61,382.06 L769.95,383.53 L770.29,385.00 L770.63,386.48 L770.95,387.95 L771.27,389.43 L771.57,390.91 L771.87,392.39 L772.16,393.88 L772.44,395.36 L772.72,396.85 L772.98,398.34 L773.24,399.84 L773.49,401.33 L773.73,402.83 L773.96,404.32 L774.18,405.82 L774.40,407.33 L774.60,408.83 L774.80,410.34 L800.00,420.00 L800.00,520.00 L718.26,519.96 L718.31,518.46 L718.35,516.95 L718.39,515.45 L718.42,513.94 L718.45,512.44 L718.47,510.93 L718.48,509.42 L718.49,507.91 L718.49,506.41 L718.49,504.90 L718.48,503.39 L718.47,501.88 L718.44,500.37 L718.42,498.86 L718.38,497.35 L718.35,495.85 L718.30,494.34 L718.25,492.83 L718.20,491.32 L718.13,489.81 L718.07,488.30 L717.99,486.79 L717.91,485.28 L717.83,483.77 L717.74,482.27 L717.64,480.76 L717.53,479.25 L717.43,477.74 L717.31,476.23 L717.19,474.73 L717.06,473.22 L716.93,471.72 L716.79,470.21 L716.64,468.70 L716.49,467.20 L716.34,465.70 L716.17,464.19 L716.00,462.69 L715.83,461.19 L715.65,459.69 L715.46,458.19 L715.27,456.69 L715.07,455.19 L714.86,453.69 L714.65,452.19 L714.43,450.69 L714.21,449.20 L713.98,447.70 L713.74,446.21 L713.50,444.71 L713.26,443.22 L713.00,441.73 L712.74,440.24 L712.48,438.75 L712.20,437.27 L711.93,435.78 L711.64,434.29 L711.35,432.81 L711.05,431.33 L710.75,429.85 L710.44,428.37 L710.13,426.89 L709.81,425.41 L709.48,423.93 L709.15,422.46 L708.81,420.99 L708.46,419.51 L708.11,418.04 L707.75,416.58 L707.39,415.11 L707.02,413.64 L706.64,412.18 L706.26,410.72 L705.87,409.26 L705.47,407.80 L705.07,406.34 L704.66,404.89 L704.25,403.44 L703.83,401.99 L703.40,400.54 L702.97,399.09 L702.53,397.64 L702.09,396.20 L701.63,394.76 L701.18,393.32 L700.71,391.89 L700.24,390.45 L699.77,389.02 L699.28,387.59 L698.79,386.16 L698.30,384.73 L697.80,383.31 L697.29,381.89 L696.77,380.47 L696.25,379.05 L695.72,377.64 L695.19,376.23 L694.65,374.82 L694.11,373.41 L693.55,372.01 L692.99,370.61 L692.43,369.21 L691.86,367.81 L691.28,366.42 L690.69,365.03 L690.10,363.64 L689.51,362.26 L688.90,360.87 L688.29,359.49 L687.68,358.12 L687.05,356.74 L686.42,355.37 L685.79,354.01 L685.14,352.64 L684.50,351.28 L683.84,349.92 L683.18,348.56 L682.51,347.21 L681.84,345.86 L681.16,344.51 L680.47,343.17 L679.77,341.83 L679.07,340.49 L678.37,339.16 L677.65,337.83 L676.93,336.50 L676.21,335.18 L675.47,333.86 L674.73,332.54 L673.99,331.23 L673.23,329.92 L672.47,328.62 L671.71,327.31 L670.94,326.02 L670.16,324.72 L669.37,323.43 L668.58,322.14 L667.78,320.86 L666.98,319.58 L666.16,318.30 L665.35,317.03 L664.52,315.76 L663.69,314.49 L662.85,313.23 L662.01,311.98 L660.59,311.04 L659.93,309.87 L659.26,308.69 L658.58,307.50 L657.88,306.29 L657.17,305.07 L656.46,303.85 L655.73,302.61 L654.98,301.37 L654.23,300.11 L653.46,298.86 L652.69,297.59 L651.90,296.33 L651.10,295.05 L650.29,293.78 L649.46,292.50 L648.62,291.23 L647.78,289.95 L646.92,288.67 L646.04,287.40 L645.16,286.12 L644.26,284.85 L643.36,283.59 L642.43,282.33 L641.50,281.07 L640.56,279.82 L639.60,278.58 L638.63,277.35 L637.65,276.13 L636.66,274.91 L635.65,273.71 L634.63,272.52 L633.60,271.34 L632.56,270.18 L631.50,269.03 L630.44,267.90 L629.36,266.78 L628.26,265.68 L627.16,264.60 L626.04,263.53 L624.91,262.49 L623.77,261.47 L622.61,260.46 L621.44,259.48 L620.26,258.53 L619.07,257.59 L617.86,256.69 L616.64,255.80 L615.41,254.95 L614.16,254.12 L612.90,253.32 L611.63,252.55 L610.35,251.81 L609.05,251.10 L607.74,250.42 L606.42,249.78 L605.08,249.17 L603.73,248.59 L602.37,248.05 L601.00,247.55 L599.61,247.08 L598.21,246.65 L596.79,246.25 L595.37,245.90 L593.93,245.58 L592.49,245.30 L591.04,245.06 L589.58,244.85 L588.12,244.69 L586.65,244.56 L585.17,244.46 L583.70,244.41 L582.22,244.39 L580.74,244.41 L579.26,244.46 L577.78,244.56 L576.30,244.69 L574.83,244.86 L573.36,245.06 L571.89,245.30 L570.44,245.58 L568.98,245.90 L567.54,246.25 L566.10,246.64 L564.68,247.06 L563.26,247.53 L561.86,248.03 L560.47,248.56 L559.10,249.13 L557.73,249.74 L556.38,250.38 L555.04,251.05 L553.71,251.75 L552.39,252.48 L551.08,253.24 L549.79,254.02 L548.51,254.83 L547.23,255.67 L545.97,256.52 L544.72,257.40 L543.48,258.31 L542.26,259.23 L541.04,260.17 L539.83,261.13 L538.63,262.10 L537.45,263.09 L536.27,264.09 L535.10,265.11 L533.94,266.14 L532.80,267.18 L531.66,268.23 L530.53,269.28 L529.41,270.34 L528.29,271.42 L527.19,272.49 L526.09,273.57 L525.00,274.66 L523.92,275.75 L522.84,276.85 L521.76,277.94 L520.69,279.04 L519.62,280.14 L518.56,281.24 L517.50,282.35 L516.44,283.45 L515.38,284.55 L514.33,285.64 L513.27,286.74 L512.21,287.83 L511.16,288.92 L510.10,290.00 L509.04,291.08 L507.98,292.15 L506.92,293.21 L505.85,294.27 L504.78,295.32 L503.70,296.36 L502.62,297.39 L501.54,298.41 L500.44,299.42 L499.34,300.42 L498.24,301.41 L497.12,302.38 L496.00,303.34 L494.87,304.29 L493.73,305.22 L492.58,306.14 L491.42,307.04 L490.25,307.92 L490.40,309.50 L468.00,330.00 L465.00,332.80 L438.60,360.00 L385.50,413.60 L375.00,424.30 Z" fill="#474747"/>
<path d="M385.5,321.6 L484.5,219.3" fill="none" stroke="#74a6e0" stroke-width="4.0" stroke-linecap="round"/>
<path d="M666.21,207.16 L667.24,208.23 L668.27,209.30 L669.30,210.37 L670.33,211.45 L671.35,212.53 L672.37,213.62 L673.39,214.71 L674.41,215.80 L675.42,216.89 L676.43,217.99 L677.44,219.10 L678.45,220.21 L679.45,221.32 L680.45,222.43 L681.45,223.55 L682.45,224.67 L683.44,225.80 L684.43,226.93 L685.42,228.06 L686.41,229.20 L687.39,230.34 L688.37,231.48 L689.34,232.63 L690.32,233.78 L691.29,234.93 L692.25,236.09 L693.22,237.25 L694.18,238.42 L695.14,239.59 L696.09,240.76 L697.04,241.93 L697.99,243.11 L698.93,244.29 L699.87,245.48 L700.81,246.67 L701.75,247.86 L702.68,249.06 L703.60,250.26 L704.52,251.46 L705.44,252.67 L706.36,253.87 L707.27,255.09 L708.18,256.30 L709.08,257.52 L709.98,258.74 L710.88,259.97 L711.77,261.20 L712.66,262.43 L713.54,263.67 L714.42,264.90 L715.29,266.15 L716.16,267.39 L717.03,268.64 L717.89,269.89 L718.75,271.14 L719.60,272.40 L720.45,273.66 L721.30,274.93 L722.14,276.19 L722.97,277.46 L723.80,278.74 L724.63,280.01 L725.45,281.29 L726.27,282.57 L727.08,283.86 L727.88,285.15 L728.69,286.44 L729.48,287.73 L730.27,289.03 L731.06,290.33 L731.84,291.63 L732.62,292.94 L733.39,294.25 L734.16,295.56 L734.92,296.88 L735.67,298.19 L736.42,299.51 L737.17,300.84 L737.91,302.16 L738.64,303.49 L739.37,304.82 L740.09,306.16 L740.81,307.50 L741.52,308.84 L742.22,310.18 L742.92,311.53 L743.62,312.87 L744.31,314.23 L744.99,315.58 L745.67,316.94 L746.34,318.30 L747.00,319.66 L747.66,321.02 L748.31,322.39 L748.96,323.76 L749.60,325.13 L750.23,326.51 L750.86,327.89 L751.48,329.27 L752.09,330.65 L752.70,332.04 L753.30,333.42 L753.90,334.82 L754.49,336.21 L755.07,337.60 L755.65,339.00 L756.21,340.40 L756.78,341.81 L757.33,343.21 L757.88,344.62 L758.42,346.03 L758.96,347.45 L759.48,348.86 L760.01,350.28 L760.52,351.70 L761.03,353.12 L761.53,354.55 L762.02,355.98 L762.50,357.41 L762.98,358.84 L763.45,360.27 L763.92,361.71 L764.37,363.15 L764.82,364.59 L765.26,366.03 L765.69,367.48 L766.12,368.93 L766.54,370.38 L766.95,371.83 L767.35,373.28 L767.75,374.74 L768.14,376.20 L768.51,377.66 L768.89,379.13 L769.25,380.59 L769.61,382.06 L769.95,383.53 L770.29,385.00 L770.63,386.48 L770.95,387.95 L771.27,389.43 L771.57,390.91 L771.87,392.39 L772.16,393.88 L772.44,395.36 L772.72,396.85 L772.98,398.34 L773.24,399.84 L773.49,401.33 L773.73,402.83 L773.96,404.32 L774.18,405.82 L774.40,407.33 L774.60,408.83 L774.80,410.34" fill="none" stroke="#74a6e0" stroke-width="4.0" stroke-linecap="round"/>
<path d="M490.25,307.92 L491.42,307.04 L492.58,306.14 L493.73,305.22 L494.87,304.29 L496.00,303.34 L497.12,302.38 L498.24,301.41 L499.34,300.42 L500.44,299.42 L501.54,298.41 L502.62,297.39 L503.70,296.36 L504.78,295.32 L505.85,294.27 L506.92,293.21 L507.98,292.15 L509.04,291.08 L510.10,290.00 L511.16,288.92 L512.21,287.83 L513.27,286.74 L514.33,285.64 L515.38,284.55 L516.44,283.45 L517.50,282.35 L518.56,281.24 L519.62,280.14 L520.69,279.04 L521.76,277.94 L522.84,276.85 L523.92,275.75 L525.00,274.66 L526.09,273.57 L527.19,272.49 L528.29,271.42 L529.41,270.34 L530.53,269.28 L531.66,268.23 L532.80,267.18 L533.94,266.14 L535.10,265.11 L536.27,264.09 L537.45,263.09 L538.63,262.10 L539.83,261.13 L541.04,260.17 L542.26,259.23 L543.48,258.31 L544.72,257.40 L545.97,256.52 L547.23,255.67 L548.51,254.83 L549.79,254.02 L551.08,253.24 L552.39,252.48 L553.71,251.75 L555.04,251.05 L556.38,250.38 L557.73,249.74 L559.10,249.13 L560.47,248.56 L561.86,248.03 L563.26,247.53 L564.68,247.06 L566.10,246.64 L567.54,246.25 L568.98,245.90 L570.44,245.58 L571.89,245.30 L573.36,245.06 L574.83,244.86 L576.30,244.69 L577.78,244.56 L579.26,244.46 L580.74,244.41 L582.22,244.39 L583.70,244.41 L585.17,244.46 L586.65,244.56 L588.12,244.69 L589.58,244.85 L591.04,245.06 L592.49,245.30 L593.93,245.58 L595.37,245.90 L596.79,246.25 L598.21,246.65 L599.61,247.08 L601.00,247.55 L602.37,248.05 L603.73,248.59 L605.08,249.17 L606.42,249.78 L607.74,250.42 L609.05,251.10 L610.35,251.81 L611.63,252.55 L612.90,253.32 L614.16,254.12 L615.41,254.95 L616.64,255.80 L617.86,256.69 L619.07,257.59 L620.26,258.53 L621.44,259.48 L622.61,260.46 L623.77,261.47 L624.91,262.49 L626.04,263.53 L627.16,264.60 L628.26,265.68 L629.36,266.78 L630.44,267.90 L631.50,269.03 L632.56,270.18 L633.60,271.34 L634.63,272.52 L635.65,273.71 L636.66,274.91 L637.65,276.13 L638.63,277.35 L639.60,278.58 L640.56,279.82 L641.50,281.07 L642.43,282.33 L643.36,283.59 L644.26,284.85 L645.16,286.12 L646.04,287.40 L646.92,288.67 L647.78,289.95 L648.62,291.23 L649.46,292.50 L650.29,293.78 L651.10,295.05 L651.90,296.33 L652.69,297.59 L653.46,298.86 L654.23,300.11 L654.98,301.37 L655.73,302.61 L656.46,303.85 L657.17,305.07 L657.88,306.29 L658.58,307.50 L659.26,308.69 L659.93,309.87 L660.59,311.04" fill="none" stroke="#74a6e0" stroke-width="4.0" stroke-linecap="round"/>
<path d="M380.18,336.65 L381.26,335.73 L382.34,334.80 L383.42,333.87 L384.50,332.94 L385.58,332.01 L386.67,331.07 L387.75,330.12 L388.84,329.18 L389.93,328.23 L391.03,327.28 L392.12,326.32 L393.22,325.37 L394.32,324.41 L395.42,323.45 L396.52,322.48 L397.63,321.51 L398.73,320.55 L399.84,319.58 L400.96,318.60 L402.07,317.63 L403.19,316.66 L404.31,315.68 L405.43,314.70 L406.55,313.73 L407.68,312.75 L408.81,311.77 L409.94,310.79 L411.07,309.81 L412.20,308.83 L413.34,307.85 L414.48,306.87 L415.63,305.88 L416.77,304.90 L417.92,303.92 L419.07,302.95 L420.23,301.97 L421.38,300.99 L422.54,300.01 L423.70,299.04 L424.87,298.06 L426.04,297.09 L427.21,296.12 L428.38,295.15 L429.56,294.18 L430.74,293.22 L431.92,292.25 L433.10,291.29 L434.29,290.33 L435.48,289.38 L436.68,288.43 L437.87,287.47 L439.07,286.53 L440.28,285.58 L441.48,284.64 L442.69,283.70 L443.91,282.77 L445.12,281.84 L446.34,280.91 L447.57,279.99 L448.79,279.07 L450.02,278.16 L451.25,277.25 L452.49,276.34 L453.73,275.44 L454.97,274.55 L456.22,273.66 L457.47,272.77 L458.72,271.89 L459.98,271.02 L461.24,270.15 L462.50,269.28 L463.77,268.43 L465.04,267.57 L466.32,266.73 L467.60,265.89 L468.88,265.06 L470.17,264.23 L471.46,263.41 L472.75,262.60 L474.05,261.79 L475.35,260.99 L476.66,260.20 L477.97,259.42 L479.28,258.64 L480.60,257.87 L481.92,257.11 L483.24,256.36 L484.57,255.61 L485.91,254.87 L487.24,254.15 L488.59,253.43 L489.93,252.71 L491.28,252.01 L492.64,251.32 L494.00,250.63 L495.36,249.96 L496.73,249.29 L498.10,248.63 L499.47,247.99 L500.85,247.35 L502.24,246.72 L503.63,246.11 L505.02,245.50 L506.42,244.90 L507.82,244.32 L509.23,243.74 L510.64,243.18 L512.06,242.62 L513.48,242.08 L514.90,241.55 L516.33,241.03 L517.77,240.52 L519.21,240.02 L520.65,239.54 L522.10,239.07 L523.55,238.60 L525.01,238.15 L526.47,237.72 L527.94,237.29 L529.41,236.88 L530.88,236.48 L532.36,236.10 L533.84,235.72 L535.32,235.36 L536.81,235.01 L538.30,234.68 L539.79,234.36 L541.28,234.05 L542.78,233.76 L544.28,233.48 L545.77,233.21 L547.28,232.96 L548.78,232.72 L550.28,232.50 L551.79,232.29 L553.29,232.10 L554.80,231.92 L556.31,231.75 L557.81,231.60 L559.32,231.46 L560.83,231.34 L562.34,231.24 L563.84,231.15 L565.35,231.08 L566.85,231.02 L568.36,230.97 L569.86,230.95 L571.36,230.94 L572.87,230.94 L574.36,230.96 L575.86,231.00 L577.36,231.05 L578.85,231.13 L580.34,231.21 L581.83,231.32 L583.31,231.44 L584.80,231.58 L586.28,231.73 L587.75,231.91 L589.22,232.10 L590.69,232.31 L592.16,232.53 L593.62,232.78 L595.08,233.04 L596.53,233.32 L597.98,233.62 L599.42,233.93 L600.86,234.27 L602.29,234.62 L603.72,234.99 L605.14,235.38 L606.56,235.79 L607.97,236.22 L609.37,236.66 L610.77,237.12 L612.16,237.60 L613.55,238.10 L614.93,238.61 L616.30,239.15 L617.67,239.69 L619.03,240.26 L620.38,240.84 L621.72,241.44 L623.06,242.06 L624.38,242.69 L625.70,243.34 L627.01,244.01 L628.32,244.69 L629.61,245.39 L630.90,246.10 L632.17,246.83 L633.44,247.57 L634.70,248.33 L635.95,249.11 L637.19,249.90 L638.42,250.71 L639.63,251.53 L640.84,252.37 L642.04,253.22 L643.23,254.08 L644.41,254.96 L645.57,255.86 L646.73,256.77 L647.87,257.69 L649.01,258.63 L650.13,259.58 L651.24,260.55 L652.34,261.53 L653.43,262.52 L654.51,263.52 L655.57,264.54 L656.63,265.57 L657.67,266.62 L658.71,267.67 L659.73,268.74 L660.74,269.82 L661.75,270.91 L662.74,272.02 L663.72,273.13 L664.69,274.26 L665.65,275.40 L666.60,276.54 L667.54,277.70 L668.47,278.87 L669.39,280.05 L670.30,281.24 L671.20,282.44 L672.10,283.65 L672.98,284.87 L673.85,286.10 L674.71,287.33 L675.56,288.58 L676.40,289.84 L677.24,291.10 L678.06,292.37 L678.88,293.65 L679.68,294.94 L680.48,296.23 L681.27,297.54 L682.04,298.85 L682.81,300.17 L683.57,301.49 L684.33,302.82 L685.07,304.16 L685.80,305.51 L686.53,306.86 L687.24,308.22 L687.95,309.58 L688.65,310.95 L689.35,312.32 L690.03,313.70 L690.70,315.09 L691.37,316.48 L692.03,317.87 L692.68,319.27 L693.32,320.67 L693.96,322.08 L694.59,323.49 L695.21,324.91 L695.82,326.33 L696.42,327.75 L697.02,329.18 L697.61,330.60 L698.19,332.04 L698.76,333.47 L699.33,334.91 L699.89,336.35 L700.44,337.79 L700.99,339.23 L701.53,340.67 L702.06,342.12 L702.58,343.57 L703.10,345.02 L703.61,346.47 L704.12,347.92 L704.61,349.37 L705.10,350.82 L705.59,352.27 L706.07,353.72 L706.54,355.17 L707.00,356.62 L707.46,358.08 L707.92,359.53 L708.36,360.98 L708.80,362.44 L709.24,363.89 L709.67,365.34 L710.09,366.80 L710.51,368.25 L710.92,369.71 L711.33,371.16 L711.73,372.62 L712.13,374.08 L712.52,375.53 L712.91,376.99 L713.29,378.45 L713.66,379.90 L714.03,381.36 L714.40,382.82 L714.76,384.28 L715.12,385.74 L715.47,387.20 L715.82,388.66 L716.16,390.12 L716.50,391.58 L716.83,393.04 L717.16,394.50 L717.49,395.96 L717.81,397.42 L718.13,398.88 L718.44,400.35 L718.75,401.81 L719.06,403.27 L719.36,404.74 L719.66,406.20 L719.95,407.67 L720.24,409.13 L720.53,410.60 L720.82,412.06 L721.10,413.53 L721.38,415.00 L721.65,416.46 L721.93,417.93 L722.20,419.40 L722.46,420.87 L722.73,422.34 L722.99,423.81 L723.25,425.28 L723.50,426.75 L723.76,428.22 L724.01,429.69 L724.26,431.16 L724.50,432.63 L724.75,434.10 L724.99,435.58 L725.23,437.05 L725.47,438.52 L725.71,440.00 L725.94,441.47 L726.18,442.95 L726.41,444.42 L726.64,445.90 L726.87,447.38 L727.10,448.85 L727.32,450.33 L727.55,451.81 L727.77,453.29 L727.99,454.77 L728.22,456.25 L728.44,457.73 L728.66,459.21 L728.88,460.69 L729.10,462.17 L729.31,463.66 L729.53,465.14 L729.75,466.62 L729.97,468.11 L730.18,469.59 L730.40,471.08 L730.62,472.56 L730.83,474.05 L731.05,475.53 L731.27,477.02 L731.48,478.51 L731.70,480.00 L731.92,481.49 L732.14,482.98 L732.35,484.47 L732.57,485.96 L732.79,487.45 L733.01,488.94 L733.23,490.43 L733.46,491.93 L733.68,493.42 L733.90,494.91 L734.13,496.41 L734.36,497.90 L734.58,499.40 L734.81,500.90 L735.04,502.39 L735.28,503.89 L735.51,505.39 L735.75,506.89 L735.98,508.39 L736.22,509.89" fill="none" stroke="#d01818" stroke-width="1.5"/>
<path d="M380.48,329.97 L381.55,329.09 L382.62,328.20 L383.69,327.31 L384.77,326.40 L385.84,325.49 L386.92,324.58 L388.00,323.65 L389.08,322.72 L390.16,321.79 L391.24,320.85 L392.33,319.90 L393.42,318.95 L394.51,317.99 L395.60,317.03 L396.69,316.07 L397.78,315.10 L398.88,314.12 L399.98,313.14 L401.08,312.16 L402.18,311.18 L403.29,310.19 L404.40,309.19 L405.50,308.20 L406.62,307.20 L407.73,306.20 L408.85,305.20 L409.96,304.19 L411.08,303.19 L412.21,302.18 L413.33,301.17 L414.46,300.15 L415.59,299.14 L416.72,298.13 L417.86,297.11 L418.99,296.10 L420.13,295.09 L421.28,294.07 L422.42,293.06 L423.57,292.04 L424.72,291.03 L425.87,290.01 L427.03,289.00 L428.19,287.99 L429.35,286.98 L430.51,285.98 L431.68,284.97 L432.85,283.97 L434.02,282.97 L435.20,281.97 L436.38,280.97 L437.56,279.98 L438.74,278.99 L439.93,278.00 L441.12,277.02 L442.32,276.04 L443.52,275.06 L444.72,274.09 L445.92,273.12 L447.13,272.16 L448.34,271.21 L449.55,270.25 L450.77,269.31 L451.99,268.36 L453.21,267.43 L454.44,266.50 L455.67,265.57 L456.91,264.65 L458.15,263.74 L459.39,262.84 L460.63,261.94 L461.88,261.05 L463.13,260.17 L464.39,259.29 L465.65,258.42 L466.92,257.56 L468.18,256.71 L469.45,255.87 L470.73,255.03 L472.01,254.20 L473.29,253.39 L474.58,252.58 L475.87,251.78 L477.17,250.99 L478.47,250.21 L479.77,249.44 L481.08,248.68 L482.39,247.93 L483.71,247.20 L485.03,246.47 L486.35,245.75 L487.68,245.05 L489.01,244.35 L490.35,243.67 L491.69,243.00 L493.04,242.35 L494.39,241.70 L495.74,241.07 L497.10,240.45 L498.47,239.84 L499.83,239.25 L501.21,238.67 L502.59,238.10 L503.97,237.55 L505.36,237.01 L506.75,236.49 L508.14,235.98 L509.55,235.48 L510.95,235.00 L512.36,234.54 L513.78,234.09 L515.20,233.65 L516.63,233.23 L518.06,232.83 L519.49,232.44 L520.93,232.07 L522.38,231.72 L523.83,231.38 L525.28,231.06 L526.74,230.75 L528.21,230.47 L529.67,230.19 L531.15,229.94 L532.62,229.70 L534.10,229.47 L535.58,229.27 L537.06,229.07 L538.55,228.90 L540.04,228.74 L541.53,228.60 L543.02,228.47 L544.52,228.36 L546.01,228.26 L547.51,228.18 L549.01,228.12 L550.51,228.07 L552.01,228.04 L553.52,228.03 L555.02,228.03 L556.52,228.05 L558.02,228.08 L559.53,228.13 L561.03,228.19 L562.53,228.27 L564.03,228.36 L565.53,228.47 L567.03,228.60 L568.53,228.74 L570.02,228.90 L571.52,229.07 L573.01,229.26 L574.50,229.47 L575.99,229.69 L577.47,229.92 L578.95,230.17 L580.43,230.44 L581.91,230.72 L583.38,231.02 L584.85,231.33 L586.31,231.66 L587.77,232.00 L589.23,232.36 L590.68,232.73 L592.13,233.12 L593.57,233.52 L595.01,233.94 L596.44,234.38 L597.86,234.83 L599.29,235.29 L600.70,235.77 L602.11,236.27 L603.51,236.77 L604.91,237.30 L606.30,237.84 L607.68,238.39 L609.05,238.96 L610.42,239.55 L611.78,240.15 L613.13,240.76 L614.48,241.39 L615.82,242.03 L617.14,242.69 L618.46,243.36 L619.77,244.05 L621.08,244.75 L622.37,245.47 L623.65,246.20 L624.92,246.95 L626.19,247.71 L627.44,248.49 L628.69,249.28 L629.92,250.08 L631.14,250.90 L632.35,251.73 L633.56,252.58 L634.75,253.44 L635.93,254.32 L637.10,255.21 L638.26,256.11 L639.40,257.03 L640.54,257.96 L641.67,258.90 L642.79,259.86 L643.90,260.83 L645.00,261.81 L646.09,262.80 L647.17,263.80 L648.23,264.82 L649.29,265.85 L650.34,266.89 L651.38,267.94 L652.42,269.00 L653.44,270.08 L654.45,271.16 L655.45,272.26 L656.45,273.37 L657.43,274.48 L658.41,275.61 L659.37,276.74 L660.33,277.89 L661.28,279.05 L662.22,280.21 L663.16,281.39 L664.08,282.57 L664.99,283.76 L665.90,284.96 L666.80,286.17 L667.69,287.39 L668.57,288.62 L669.45,289.85 L670.31,291.09 L671.17,292.34 L672.02,293.60 L672.87,294.86 L673.70,296.14 L674.53,297.41 L675.35,298.70 L676.16,299.99 L676.97,301.29 L677.76,302.59 L678.55,303.90 L679.34,305.22 L680.11,306.54 L680.88,307.87 L681.64,309.20 L682.40,310.54 L683.15,311.88 L683.89,313.23 L684.62,314.58 L685.35,315.93 L686.08,317.29 L686.79,318.66 L687.50,320.03 L688.20,321.40 L688.90,322.77 L689.59,324.15 L690.28,325.53 L690.96,326.92 L691.63,328.31 L692.29,329.70 L692.96,331.09 L693.61,332.48 L694.26,333.88 L694.91,335.28 L695.55,336.68 L696.18,338.08 L696.81,339.48 L697.43,340.89 L698.05,342.29 L698.66,343.70 L699.27,345.11 L699.87,346.51 L700.47,347.92 L701.06,349.33 L701.65,350.73 L702.24,352.14 L702.82,353.55 L703.39,354.95 L703.96,356.36 L704.53,357.77 L705.09,359.17 L705.65,360.58 L706.20,361.99 L706.75,363.39 L707.29,364.80 L707.83,366.20 L708.36,367.61 L708.89,369.02 L709.42,370.42 L709.94,371.83 L710.45,373.24 L710.97,374.64 L711.47,376.05 L711.98,377.46 L712.48,378.86 L712.97,380.27 L713.46,381.68 L713.95,383.09 L714.43,384.50 L714.91,385.91 L715.38,387.32 L715.85,388.73 L716.32,390.14 L716.78,391.55 L717.23,392.96 L717.69,394.37 L718.14,395.79 L718.58,397.20 L719.02,398.62 L719.46,400.03 L719.89,401.45 L720.32,402.86 L720.74,404.28 L721.16,405.70 L721.58,407.12 L721.99,408.54 L722.40,409.96 L722.80,411.38 L723.20,412.81 L723.59,414.23 L723.99,415.66 L724.38,417.08 L724.76,418.51 L725.14,419.94 L725.52,421.37 L725.89,422.80 L726.26,424.23 L726.62,425.66 L726.98,427.10 L727.34,428.53 L727.69,429.97 L728.04,431.41 L728.39,432.85 L728.73,434.29 L729.07,435.73 L729.41,437.17 L729.74,438.62 L730.07,440.07 L730.39,441.51 L730.71,442.96 L731.03,444.42 L731.34,445.87 L731.65,447.32 L731.96,448.78 L732.26,450.24 L732.56,451.70 L732.85,453.16 L733.14,454.62 L733.43,456.09 L733.72,457.56 L734.00,459.03 L734.28,460.50 L734.55,461.97 L734.82,463.45 L735.09,464.92 L735.35,466.40 L735.62,467.88 L735.87,469.37 L736.13,470.85 L736.38,472.34 L736.63,473.83 L736.87,475.32 L737.11,476.81 L737.35,478.31 L737.58,479.81 L737.82,481.31 L738.04,482.81 L738.27,484.32 L738.49,485.83 L738.71,487.34 L738.93,488.85 L739.14,490.36 L739.35,491.88 L739.55,493.40 L739.76,494.93 L739.96,496.45 L740.15,497.98 L740.35,499.51 L740.54,501.04 L740.73,502.58 L740.91,504.12 L741.09,505.66 L741.27,507.21 L741.45,508.75 L741.62,510.30" fill="none" stroke="#f4f4f4" stroke-width="1.3"/>
</g>
<line x1="392.4" y1="181.6" x2="572.9" y2="358" stroke="#0c7c0c" stroke-width="2.2"/>
<text x="589" y="385.3" fill="#ff4a1c" font-size="17">2</text>
<path d="M504.5,292 V309 L508.5,305.5 L511.3,311.2 L513.7,310.2 L511,304.6 L515.8,304.4 Z" fill="#fff" stroke="#000" stroke-width="1" stroke-linejoin="miter"/>
</svg>
</body></html>
